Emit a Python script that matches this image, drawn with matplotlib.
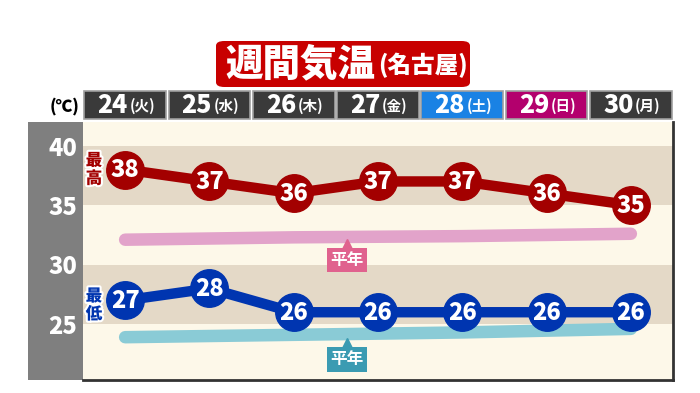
import matplotlib
matplotlib.use("Agg")
import matplotlib.pyplot as plt
from matplotlib.patches import Rectangle, FancyBboxPatch
from matplotlib.transforms import blended_transform_factory
import matplotlib.patheffects as pe

plt.rcParams['font.family'] = ['Noto Sans CJK JP', 'DejaVu Sans']

# ---- data ----
days = ["24", "25", "26", "27", "28", "29", "30"]
weekdays = ["(火)", "(水)", "(木)", "(金)", "(土)", "(日)", "(月)"]
high = [38, 37, 36, 37, 37, 36, 35]
low = [27, 28, 26, 26, 26, 26, 26]
normal_high = [32.1, 32.2, 32.3, 32.35, 32.4, 32.5, 32.6]
normal_low = [23.9, 24.0, 24.1, 24.2, 24.3, 24.45, 24.6]
yticks = [25, 30, 35, 40]
title_main = "週間気温"
title_sub = "(名古屋)"

W, H = 700, 393
fig = plt.figure(figsize=(7, 3.93), dpi=100)
fig.patch.set_facecolor("white")
HW = "black"

def fx(px):
    return px / W

def fy(py):
    return 1 - py / H

# gray axis strip
fig.patches.append(Rectangle((fx(28), fy(380)), fx(55), (380 - 122) / H,
                             transform=fig.transFigure, facecolor="#7f7f7f",
                             edgecolor="none", zorder=-1))

ax = fig.add_axes([fx(83), fy(380), fx(590), (380 - 122) / H])
ax.set_facecolor("#fdf8e9")
ax.set_xlim(-0.5, 6.5)
ax.set_ylim(20.3, 42.0)
ax.axhspan(35, 40, color="#e4d9c7", zorder=0, lw=0)
ax.axhspan(25, 30, color="#e4d9c7", zorder=0, lw=0)

for s in ["left", "top"]:
    ax.spines[s].set_visible(False)
for s in ["bottom", "right"]:
    ax.spines[s].set_color("#333333")
    ax.spines[s].set_linewidth(2)
ax.set_xticks([])
ax.set_yticks(yticks)
ax.set_yticklabels([str(v) for v in yticks], color="white", fontsize=17,
                   fontweight=HW)
ax.tick_params(axis="y", length=0, pad=4)

x = list(range(len(days)))

# normal lines
ax.plot(x, normal_high, color="#e2a3ca", lw=9, solid_capstyle="round", zorder=2)
ax.plot(x, normal_low, color="#8acbd6", lw=9, solid_capstyle="round", zorder=2)

# normal labels
for yv, tip, col in [(30.4, 31.6, "#e0628e"), (22.05, 23.25, "#3b9bb2")]:
    ax.plot([2.63], [tip], marker="^", ms=10, color=col, zorder=3, lw=0)
    ax.text(2.63, yv, "平年", color="white", fontsize=12, fontweight="bold",
            ha="center", va="center", zorder=4,
            bbox=dict(boxstyle="square,pad=0.2", fc=col, ec="none"))

# high / low lines
hi_col = "#a30000"
lo_col = "#0035b0"
ax.plot(x, high, color=hi_col, lw=7.5, zorder=5, marker="o", ms=27,
        markerfacecolor=hi_col, markeredgecolor=hi_col)
ax.plot(x, low, color=lo_col, lw=7.5, zorder=5, marker="o", ms=27,
        markerfacecolor=lo_col, markeredgecolor=lo_col)
for xi, v in zip(x, high):
    ax.text(xi, v - 0.05, str(v), color="white", fontsize=17, fontweight=HW,
            ha="center", va="center", zorder=6)
for xi, v in zip(x, low):
    ax.text(xi, v - 0.05, str(v), color="white", fontsize=17, fontweight=HW,
            ha="center", va="center", zorder=6)

outline = [pe.withStroke(linewidth=3, foreground="white")]
ax.text(-0.37, 38.0, "最\n高", color=hi_col, fontsize=12, fontweight=HW,
        ha="center", va="center", linespacing=1.0, zorder=6, path_effects=outline)
ax.text(-0.37, 26.6, "最\n低", color=lo_col, fontsize=12, fontweight=HW,
        ha="center", va="center", linespacing=1.0, zorder=6, path_effects=outline)

# header row
tr = blended_transform_factory(ax.transData, ax.transAxes)
y0 = (380 - 119) / 258
y1 = (380 - 91) / 258
cell_cols = ["#3a3a3a", "#3a3a3a", "#3a3a3a", "#3a3a3a", "#1a82e4", "#b3006d", "#3a3a3a"]
for i, (d, w) in enumerate(zip(days, weekdays)):
    r = Rectangle((i - 0.485, y0), 0.97, y1 - y0, transform=tr, facecolor=cell_cols[i],
                  edgecolor="#a0a0a0", lw=1.2, clip_on=False)
    ax.add_patch(r)
    ym = (y0 + y1) / 2
    ax.text(i + 0.03, ym, d, transform=tr, color="white", fontsize=18,
            fontweight=HW, ha="right", va="center", clip_on=False)
    ax.text(i + 0.05, ym - 0.005, w, transform=tr, color="white", fontsize=10.5,
            fontweight="bold", ha="left", va="center", clip_on=False)

fig.text(fx(65), fy(106), "(℃)", color="black", fontsize=12, fontweight=HW,
         ha="center", va="center")

# title
fig.patches.append(FancyBboxPatch((fx(216), fy(87)), fx(254), (87 - 41) / H,
                                  boxstyle="round,pad=0,rounding_size=0.012",
                                  transform=fig.transFigure, facecolor="#c80000",
                                  edgecolor="none"))
fig.text(fx(225), fy(64), title_main, color="white", fontsize=27,
         fontweight=HW, ha="left", va="center")
fig.text(fx(378), fy(65), title_sub, color="white", fontsize=17,
         fontweight=HW, ha="left", va="center")

fig.savefig("out.png", dpi=100, facecolor="white")
